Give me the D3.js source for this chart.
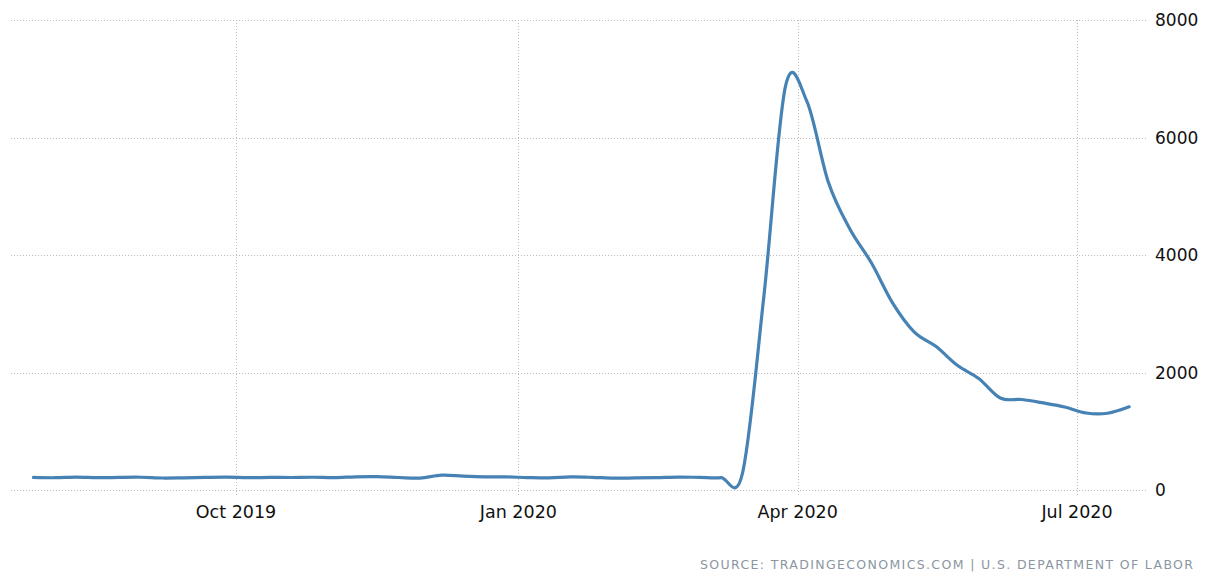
<!DOCTYPE html>
<html>
<head>
<meta charset="utf-8">
<script src="https://cdn.jsdelivr.net/npm/d3@7"></script>
<style>
  html, body { margin: 0; padding: 0; background: #fff; }
  svg { display: block; }
</style>
</head>
<body>
<svg id="chart" width="1205" height="572"></svg>
<script>
// Weekly initial jobless claims (thousands), week ending dates
const weekDates = [
  "2019-07-27","2019-08-03","2019-08-10","2019-08-17","2019-08-24","2019-08-31",
  "2019-09-07","2019-09-14","2019-09-21","2019-09-28","2019-10-05","2019-10-12",
  "2019-10-19","2019-10-26","2019-11-02","2019-11-09","2019-11-16","2019-11-23",
  "2019-11-30","2019-12-07","2019-12-14","2019-12-21","2019-12-28","2020-01-04",
  "2020-01-11","2020-01-18","2020-01-25","2020-02-01","2020-02-08","2020-02-15",
  "2020-02-22","2020-02-29","2020-03-07","2020-03-14","2020-03-21","2020-03-28",
  "2020-04-04","2020-04-11","2020-04-18","2020-04-25","2020-05-02","2020-05-09",
  "2020-05-16","2020-05-23","2020-05-30","2020-06-06","2020-06-13","2020-06-20",
  "2020-06-27","2020-07-04","2020-07-11","2020-07-18"
];
const claims = [
  215, 209, 220, 209, 215, 217,
  204, 208, 215, 219, 210, 214,
  213, 217, 211, 225, 227, 213,
  203, 252, 235, 224, 223, 212,
  207, 222, 216, 202, 205, 210,
  219, 216, 211, 282, 3307, 6867,
  6615, 5237, 4442, 3867, 3176, 2687,
  2446, 2123, 1897, 1566, 1540, 1482,
  1413, 1310, 1307, 1416
];
const xTickDates = ["2019-10-01","2020-01-01","2020-04-01","2020-07-01"];
const xTickLabels = ["Oct 2019","Jan 2020","Apr 2020","Jul 2020"];
const yTicks = [0, 2000, 4000, 6000, 8000];
const sourceText = "SOURCE: TRADINGECONOMICS.COM | U.S. DEPARTMENT OF LABOR";

const parse = d3.utcParse("%Y-%m-%d");
const data = weekDates.map((d, i) => ({ date: parse(d), value: claims[i] }));

const svg = d3.select("#chart");

const x = d3.scaleUtc()
  .domain([parse(xTickDates[0]), parse(xTickDates[3])])
  .range([236, 1077]);
const y = d3.scaleLinear().domain([0, 8000]).range([490, 20]);

const gridColor = "#bdbdbd";
const gridLeft = 11, gridRight = 1148;

// horizontal grid
svg.append("g").selectAll("line").data(yTicks).join("line")
  .attr("x1", gridLeft).attr("x2", gridRight)
  .attr("y1", d => Math.round(y(d)) + 0.5).attr("y2", d => Math.round(y(d)) + 0.5)
  .attr("stroke", gridColor).attr("stroke-width", 1)
  .attr("stroke-dasharray", "1,2");

// vertical grid
svg.append("g").selectAll("line").data(xTickDates).join("line")
  .attr("x1", d => Math.round(x(parse(d))) + 0.5).attr("x2", d => Math.round(x(parse(d))) + 0.5)
  .attr("y1", y(8000)).attr("y2", y(0) + 7)
  .attr("stroke", gridColor).attr("stroke-width", 1)
  .attr("stroke-dasharray", "1,2");

// y labels
svg.append("g").selectAll("text").data(yTicks).join("text")
  .attr("x", 1155).attr("y", d => y(d))
  .attr("dy", "0.36em")
  .attr("font-family", "DejaVu Sans, sans-serif")
  .attr("font-size", 17)
  .attr("fill", "#111")
  .text(d => d);

// x labels
svg.append("g").selectAll("text").data(xTickDates).join("text")
  .attr("x", d => x(parse(d))).attr("y", 512)
  .attr("dy", "0.36em")
  .attr("text-anchor", "middle")
  .attr("font-family", "DejaVu Sans, sans-serif")
  .attr("font-size", 17.5)
  .attr("fill", "#111")
  .text((d, i) => xTickLabels[i]);

// line
const line = d3.line()
  .x(d => x(d.date))
  .y(d => y(d.value))
  .curve(d3.curveCardinal.tension(0));

svg.append("path").datum(data)
  .attr("d", line)
  .attr("fill", "none")
  .attr("stroke", "#4682b4")
  .attr("stroke-width", 3.2)
  .attr("stroke-linejoin", "round")
  .attr("stroke-linecap", "round");

// source
svg.append("text")
  .attr("x", 700).attr("y", 569)
  .attr("font-family", "DejaVu Sans, sans-serif")
  .attr("font-size", 12.5)
  .attr("fill", "#8a96a2")
  .attr("textLength", 493)
  .attr("lengthAdjust", "spacing")
  .text(sourceText);
</script>
</body>
</html>
